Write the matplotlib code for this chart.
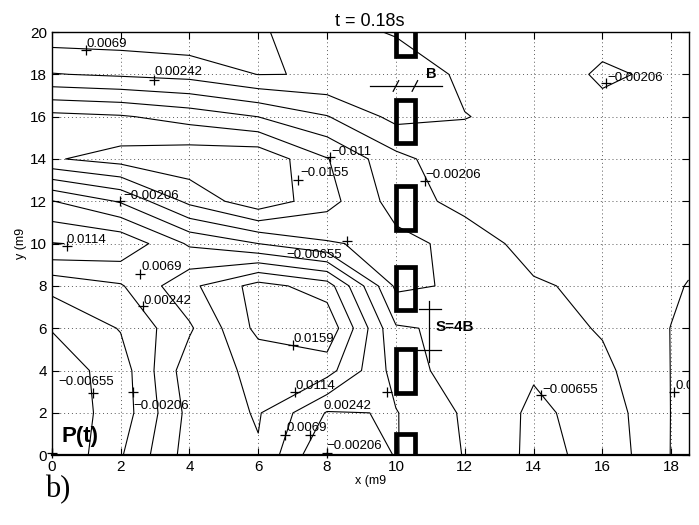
import numpy as np
import matplotlib
matplotlib.use('Agg')
import matplotlib.pyplot as plt
from matplotlib.patches import Rectangle

plt.rcParams['font.family'] = ['Liberation Sans', 'DejaVu Sans']

# measurement grid (m)
x_nodes = [0, 2, 4, 6, 8, 10, 12, 14, 16, 18, 18.5]
y_nodes = [0, 2, 4, 6, 8, 10, 12, 14, 16, 18, 20]

# pressure at the nodes in units of 1e-3, one row per y node (bottom to top)
p_rows = [
    [-11.11, -2.51, 8.92, 10.93, -2.28, 2.64, -2.28, -7.66, -5.42, 2.55, 3.76],
    [-9.68, -4.52, 8.24, 11.83, 2.06, 2.64, -2.69, -7.44, -4.75, 2.51, 3.54],
    [-9.23, -4.34, 9.59, 12.19, 13.17, 0.63, -4.75, -6.09, -3.18, 2.51, 3.32],
    [-6.32, -1.79, 6.23, 17.20, 19.44, -1.61, -2.96, -4.30, -1.61, 2.51, 3.09],
    [-0.72, 1.97, 10.26, 17.65, 13.62, -7.44, -5.87, -2.73, -0.72, 1.75, 2.64],
    [11.60, 10.48, 1.75, -2.06, -6.09, -7.88, -5.20, 0.18, 0.18, 0.63, 1.08],
    [2.64, -2.51, -12.14, -18.64, -12.59, -4.75, -0.27, 0.18, 0.63, 0.63, 0.63],
    [-15.05, -17.29, -18.64, -19.08, -11.24, -3.40, 1.08, 1.08, 0.63, 0.63, 0.63],
    [-12.36, -11.47, -9.23, -6.50, -2.28, 3.76, 2.51, 1.52, -0.72, 0.18, 0.18],
    [2.20, 3.09, 3.99, 6.99, 6.77, 4.66, 1.75, 0.63, -2.73, -1.16, -0.72],
    [9.59, 9.81, 10.48, 7.57, 3.76, 2.11, 0.63, 0.63, -0.49, 0.18, 0.18],
]

levels = [-0.0155, -0.011, -0.00655, -0.00206, 0.00242, 0.0069, 0.0114, 0.0159]

# contour labels: level index, text position
lab_level = [5, 4, 1, 0, 3, 6, 2, 3, 3, 5, 4, 7, 2, 3, 6, 4, 5, 3, 2, 4]
lab_x = [1.0, 3.0, 8.11, 7.21, 2.08, 0.43, 6.83, 10.85, 16.15, 2.62,
         2.66, 7.02, 0.18, 2.37, 7.07, 7.9, 6.83, 7.99, 14.24, 18.12]
lab_y = [19.45, 18.1, 14.35, 13.35, 12.26, 10.17, 9.48, 13.25, 17.82, 8.88,
         7.28, 5.47, 3.44, 2.33, 3.25, 2.31, 1.29, 0.44, 3.1, 3.25]

# '+' marks placed on the contours
plus_x = [1.0, 2.97, 8.08, 7.16, 1.98, 0.43, 8.57, 10.85, 16.11, 2.57,
          2.66, 7.02, 1.21, 2.35, 7.07, 6.78, 7.51, 8.0, 14.2, 18.07, 9.74, 0.0]
plus_y = [19.13, 17.75, 14.1, 13.0, 12.0, 9.87, 10.14, 12.97, 17.61, 8.57,
          7.07, 5.19, 2.96, 3.0, 3.0, 0.94, 0.94, 0.1, 2.83, 2.98, 2.98, 0.1]

# piles drawn over the field
pile_x = 10.0
pile_w = 0.55
pile_bottom = [18.85, 14.75, 10.65, 6.85, 2.95, -1.05]
pile_h = 2.05


def fmt(v):
    return ('%g' % v).replace('-', '\u2212')


def run():
    X, Y = np.meshgrid(x_nodes, y_nodes)
    Z = np.array(p_rows) * 1e-3

    fig = plt.figure(figsize=(6.99, 5.25), dpi=100)
    ax = fig.add_axes([0.074, 0.133, 0.911, 0.806])

    ax.contour(X, Y, Z, levels=levels, colors='k', linewidths=0.8,
               linestyles='solid')

    ax.plot(plus_x, plus_y, '+', color='k', markersize=7, mew=0.9,
            clip_on=False, zorder=4)
    for i, lev in enumerate(lab_level):
        ax.text(lab_x[i], lab_y[i], fmt(levels[lev]), fontsize=9.5,
                ha='left', va='center', clip_on=True, zorder=5)

    for yb in pile_bottom:
        ax.add_patch(Rectangle((pile_x, yb), pile_w, pile_h, fill=False,
                               edgecolor='k', linewidth=3.4, zorder=6))

    # pile width B
    ax.plot([9.25, 11.34], [17.45, 17.45], color='k', lw=0.9)
    for xs in [pile_x, pile_x + pile_w]:
        ax.plot([xs - 0.08, xs + 0.08], [17.2, 17.7], color='k', lw=0.9)
    ax.text(11.03, 18.0, 'B', fontsize=10.5, fontweight='bold',
            ha='center', va='center')

    # spacing S
    ax.plot([10.95, 10.95], [4.4, 7.28], color='k', lw=0.9)
    ax.plot([10.66, 11.31], [6.92, 6.92], color='k', lw=0.9)
    ax.plot([10.51, 11.31], [4.95, 4.95], color='k', lw=0.9)
    ax.text(11.14, 6.05, 'S=4B', fontsize=11, fontweight='bold',
            ha='left', va='center')

    ax.text(0.29, 0.86, 'P(t)', fontsize=16, fontweight='bold',
            ha='left', va='center')

    ax.set_xlim(0, 18.5)
    ax.set_ylim(0, 20)
    ax.set_xticks(np.arange(0, 19, 2))
    ax.set_yticks(np.arange(0, 21, 2))
    ax.tick_params(direction='in', top=True, right=True, labelsize=11,
                   length=5, width=0.8)
    ax.grid(True, color='0.35', linestyle=(0, (1, 3)), linewidth=0.7)
    for s in ax.spines.values():
        s.set_linewidth(1.0)
    ax.spines['bottom'].set_linewidth(1.6)

    ax.set_title('t = 0.18s', fontsize=13, pad=4)
    ax.set_xlabel('x (m9', fontsize=9, labelpad=1)
    ax.set_ylabel('y (m9', fontsize=9, labelpad=2)

    fig.text(0.064, 0.067, 'b)', fontsize=22, family='Liberation Serif',
             ha='left', va='center')

    fig.savefig('out.png', dpi=100)


if __name__ == '__main__':
    run()
